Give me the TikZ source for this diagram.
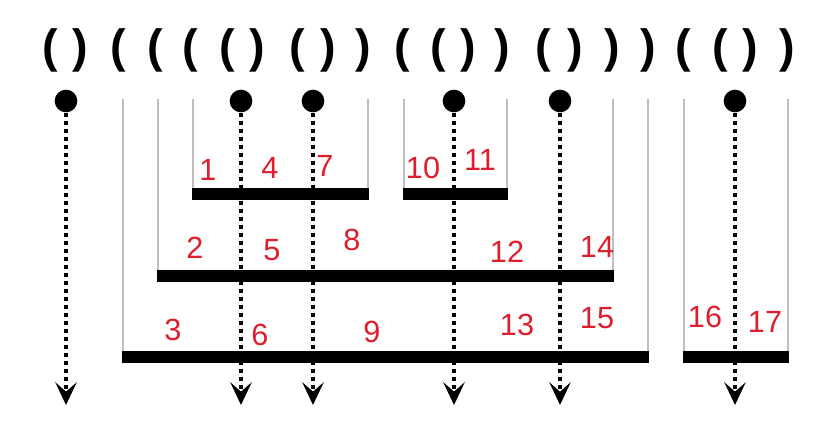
\documentclass[tikz,border=0pt]{standalone}
\usepackage{fontspec}
\setmainfont{Liberation Sans}
\usetikzlibrary{arrows.meta}
\definecolor{handred}{RGB}{222,30,45}

\begin{document}
\begin{tikzpicture}[
    x=0.75pt, y=-0.75pt,
    paren/.style={font=\fontsize{35}{35}\selectfont\bfseries, inner sep=0pt},
    leaf/.style={circle, fill=black, minimum size=17pt, inner sep=0pt},
    bar/.style={line width=9pt},
    guide/.style={draw=black!25, line width=1pt},
    flow/.style={-{Stealth[length=17pt,width=16pt,inset=7pt]}, line width=3pt, dash pattern=on 3pt off 3pt},
    num/.style={text=handred, font=\fontsize{23}{23}\selectfont, inner sep=0pt}
]
\useasboundingbox (0,0) rectangle (816,440);

% Parentheses string
\foreach \x [count=\i] in {50,118,155,190,227,297,402,438,543,683,720}
  \node[paren] (o\i) at (\x,50) {(};
\foreach \x [count=\i] in {80,257,328,363,468,502,575,612,648,750,787}
  \node[paren] (c\i) at (\x,50) {)};

% Brackets (guides + bars)
\foreach \xa/\xb/\y in {123/648/357, 158/613/276, 193/368/194, 404/507/194, 684/788/357} {
  \draw[guide] (\xa,99) -- (\xa,\y);
  \draw[guide] (\xb,99) -- (\xb,\y);
  \draw[bar] (\xa-1,\y) -- (\xb+1,\y);
}

% Leaves and their dotted arrows
\foreach \x [count=\i] in {66,241,313,454,560,735} {
  \node[leaf] (d\i) at (\x,101) {};
  \coordinate (e\i) at (\x,405);
  \draw[flow] (d\i.south) -- (e\i);
}

% Handwritten numbers
\foreach \t/\x/\y in {1/208/170, 4/270/168, 7/325/166, 10/423/168, 11/480/160,
    2/195/248, 5/272/250, 8/352/240, 12/507/252, 14/597/247,
    3/173/330, 6/260/335, 9/372/332, 13/517/325, 15/597/318, 16/705/317, 17/765/322}
  \node[num] (n\t) at (\x,\y) {\t};

\end{tikzpicture}
\end{document}
